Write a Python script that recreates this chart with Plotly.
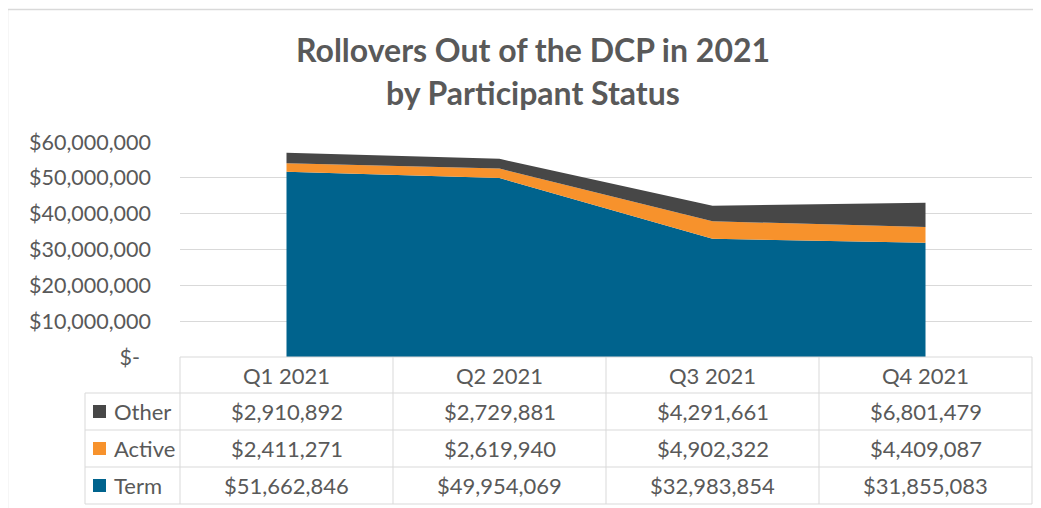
import plotly.graph_objects as go

categories = ["Q1 2021", "Q2 2021", "Q3 2021", "Q4 2021"]
series_names = ["Other", "Active", "Term"]
other = [2910892, 2729881, 4291661, 6801479]
active = [2411271, 2619940, 4902322, 4409087]
term = [51662846, 49954069, 32983854, 31855083]
tick_vals = [0, 10000000, 20000000, 30000000, 40000000, 50000000, 60000000]
tick_text = ["$-\u00a0\u00a0", "$10,000,000", "$20,000,000", "$30,000,000",
             "$40,000,000", "$50,000,000", "$60,000,000"]

colors = {"Term": "#00638D", "Active": "#F7922C", "Other": "#474747"}
values = {"Term": term, "Active": active, "Other": other}

# page body has an 8px margin; work in window pixel coordinates and subtract it
OFF = 8
W, H = 1041 - OFF, 508 - OFF
PL, PR, PT, PB = 180, 1032, 142, 357   # window pixel coords of plot area
FONT = "Lato"
TXT = "#595959"
GRID = "#D9D9D9"


def xp(px):
    return (px - PL) / (PR - PL)


def yp(py):
    return (PB - py) / (PB - PT)


xs = list(range(len(categories)))
fig = go.Figure()
for name in ["Term", "Active", "Other"]:
    fig.add_trace(go.Scatter(
        x=xs, y=values[name], name=name, mode="none", stackgroup="one",
        fillcolor=colors[name], line=dict(width=0), showlegend=False,
        hoverinfo="skip"))

shapes = []
ann = []

# outer chart border
shapes.append(dict(type="rect", xref="paper", yref="paper", x0=xp(7.5), x1=xp(1080),
                   y0=yp(540), y1=yp(9.5), line=dict(color=GRID, width=1.5)))

# table geometry
row_edges = [357, 393, 430, 467, 504]
ncol = len(categories)
col_edges = [xp(PL + i * (PR - PL) / ncol) for i in range(ncol + 1)]
label_left = xp(85)

line = dict(color=GRID, width=1)
shapes.append(dict(type="line", xref="paper", yref="paper", x0=0, x1=1,
                   y0=yp(row_edges[0]), y1=yp(row_edges[0]), line=line))
for r in row_edges[1:]:
    shapes.append(dict(type="line", xref="paper", yref="paper", x0=label_left, x1=1,
                       y0=yp(r), y1=yp(r), line=line))
for c in col_edges:
    shapes.append(dict(type="line", xref="paper", yref="paper", x0=c, x1=c,
                       y0=yp(row_edges[0]), y1=yp(row_edges[-1]), line=line))
shapes.append(dict(type="line", xref="paper", yref="paper", x0=label_left, x1=label_left,
                   y0=yp(row_edges[1]), y1=yp(row_edges[-1]), line=line))

tfont = dict(family=FONT, size=22, color=TXT)
hy = yp((row_edges[0] + row_edges[1]) / 2)
for i, cat in enumerate(categories):
    ann.append(dict(xref="paper", yref="paper", x=(col_edges[i] + col_edges[i + 1]) / 2,
                    y=hy, text=cat, showarrow=False, font=tfont,
                    xanchor="center", yanchor="middle"))
for j, name in enumerate(series_names):
    cy_px = (row_edges[j + 1] + row_edges[j + 2]) / 2
    cy = yp(cy_px)
    shapes.append(dict(type="rect", xref="paper", yref="paper", x0=xp(93), x1=xp(106),
                       y0=yp(cy_px + 6.5), y1=yp(cy_px - 6.5),
                       fillcolor=colors[name], line=dict(width=0)))
    ann.append(dict(xref="paper", yref="paper", x=xp(112), y=cy, text=name,
                    showarrow=False, font=tfont, xanchor="left", yanchor="middle"))
    for i, v in enumerate(values[name]):
        ann.append(dict(xref="paper", yref="paper",
                        x=(col_edges[i] + col_edges[i + 1]) / 2, y=cy,
                        text=f"${v:,}", showarrow=False, font=tfont,
                        xanchor="center", yanchor="middle"))

title_font = dict(family=FONT, size=32, color=TXT)
ann.append(dict(xref="paper", yref="paper", x=xp(533), y=yp(49),
                text="<b>Rollovers Out of the DCP in 2021</b>", showarrow=False,
                font=title_font, xanchor="center", yanchor="middle"))
ann.append(dict(xref="paper", yref="paper", x=xp(533), y=yp(93),
                text="<b>by Participant Status</b>", showarrow=False,
                font=title_font, xanchor="center", yanchor="middle"))

fig.update_layout(
    width=W, height=H,
    margin=dict(l=PL - OFF, r=1041 - PR, t=PT - OFF, b=508 - PB, pad=0),
    paper_bgcolor="white", plot_bgcolor="white",
    xaxis=dict(range=[-0.5, ncol - 0.5], showticklabels=False, showgrid=False,
               zeroline=False, showline=False, fixedrange=True),
    yaxis=dict(range=[0, 60000000], tickvals=tick_vals, ticktext=tick_text,
               showgrid=True, gridcolor=GRID, gridwidth=1, zeroline=False,
               showline=False, ticks="", ticklen=0, ticklabelstandoff=28,
               tickfont=dict(family=FONT, size=21.5, color=TXT), fixedrange=True),
    shapes=shapes, annotations=ann,
)

fig.write_html("out.html")
